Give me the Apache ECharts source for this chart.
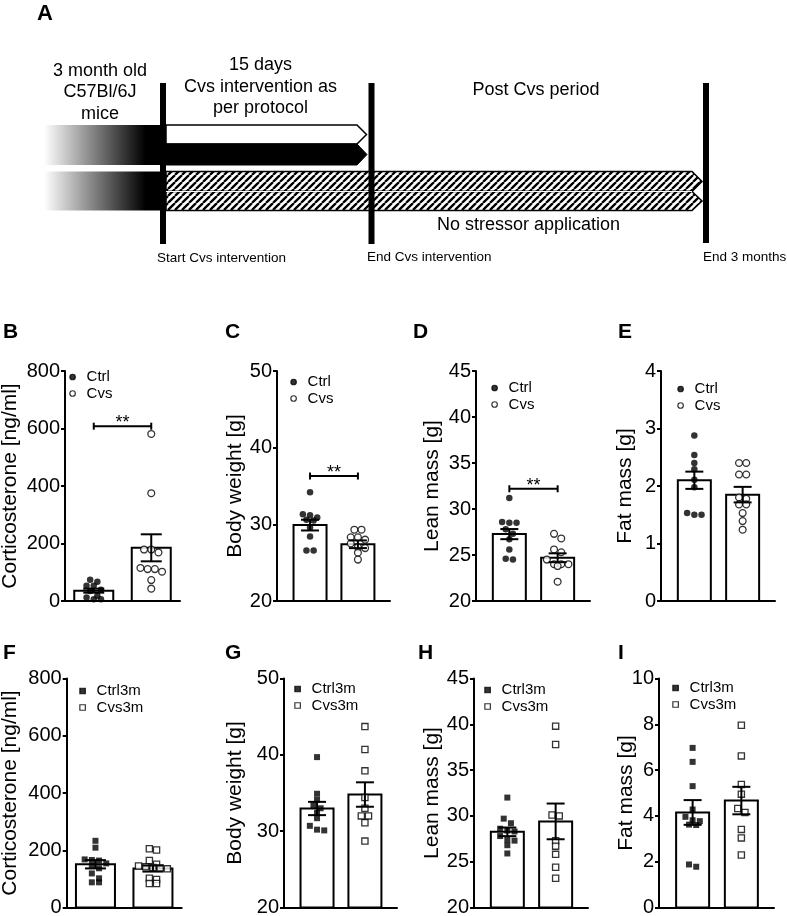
<!DOCTYPE html>
<html><head><meta charset="utf-8">
<script src="https://cdn.jsdelivr.net/npm/echarts@6/dist/echarts.min.js"></script>
<style>html,body{margin:0;padding:0;background:#fff}#c{width:787px;height:916px}</style>
</head><body><div id="c"></div>
<script>
// ---------------- DATA ----------------
const groupsTop = ['Ctrl', 'Cvs'];
const groupsBottom = ['Ctrl3m', 'Cvs3m'];

// B: Corticosterone
const corticoCtrl = [74, 67, 53, 53, 39, 35, 18, 12, 6, 6];
const corticoCvs = [581, 375, 179, 179, 169, 115, 111, 111, 102, 73, 43];
const corticoMean = [36, 185];
const corticoSem = [7, 47];
const corticoSig = 608;
// C: Body weight
const bwCtrl = [34.2, 31.2, 31.3, 30.9, 30.6, 30.5, 29.6, 28.4, 26.6, 26.6];
const bwCvs = [29.3, 29.3, 28.3, 28.3, 28.0, 27.5, 27.0, 26.9, 26.3, 25.4];
const bwMean = [29.9, 27.4];
const bwSem = [0.7, 0.5];
const bwSig = 36.3;
// D: Lean mass
const leanCtrl = [31.2, 28.6, 28.5, 28.5, 27.8, 27.3, 26.7, 25.6, 24.6, 24.5];
const leanCvs = [27.3, 26.8, 25.6, 25.3, 24.5, 24.0, 24.0, 24.0, 23.8, 22.1];
const leanMean = [27.27, 24.7];
const leanSem = [0.55, 0.48];
const leanSig = 32.2;
// E: Fat mass
const fatCtrl = [2.88, 2.54, 2.40, 2.29, 2.11, 1.98, 1.53, 1.50, 1.50];
const fatCvs = [2.40, 2.40, 2.20, 2.20, 1.80, 1.78, 1.68, 1.68, 1.53, 1.39, 1.24];
const fatMean = [2.10, 1.85];
const fatSem = [0.15, 0.135];
// F: Corticosterone 3m
const cortico3mCtrl = [233, 209, 168, 166, 164, 154, 145, 137, 119, 102, 88, 88];
const cortico3mCvs = [205, 201, 164, 151, 145, 142, 140, 138, 135, 102, 98, 84, 84];
const cortico3mMean = [151, 136];
const cortico3mSem = [14.5, 10.5];
// G: Body weight 3m
const bw3mCtrl = [39.7, 34.9, 34.1, 33.4, 33.0, 32.4, 31.7, 30.7, 30.2, 30.1];
const bw3mCvs = [43.7, 40.7, 37.9, 34.4, 33.0, 32.0, 32.0, 31.1, 28.7];
const bw3mMean = [32.97, 34.8];
const bw3mSem = [0.87, 1.6];
// H: Lean mass 3m
const lean3mCtrl = [32.0, 29.7, 29.2, 28.6, 28.4, 28.3, 27.8, 27.4, 27.3, 26.8, 25.9];
const lean3mCvs = [39.8, 37.8, 30.1, 30.0, 27.3, 26.7, 25.8, 24.4, 23.2];
const lean3mMean = [28.26, 29.4];
const lean3mSem = [0.47, 1.95];
// I: Fat mass 3m
const fat3mCtrl = [6.97, 6.36, 5.30, 4.28, 3.96, 3.81, 3.77, 3.62, 3.60, 1.88, 1.78];
const fat3mCvs = [7.96, 6.62, 5.37, 4.95, 4.32, 4.15, 3.41, 3.04, 2.29];
const fat3mMean = [4.15, 4.67];
const fat3mSem = [0.54, 0.6];

// Axis scales (min, max, interval)
const yCortico = [0, 800, 200];
const yBw = [20, 50, 10];
const yLean = [20, 45, 5];
const yFat = [0, 4, 1];
const yFat3m = [0, 10, 2];

// ---------------- LAYOUT ----------------
const FF = '"Liberation Sans", Arial, Helvetica, sans-serif';
const panels = [
  {L:'B', left:65, top:371, width:115, height:230, y:yCortico, name:'Corticosterone [ng/ml]', gap:44, xr:[0.5,2.5], bw:39, cap:21, groups:groupsTop, pts:[corticoCtrl,corticoCvs], mean:corticoMean, sem:corticoSem, sig:corticoSig, sym:'circle', lg:[72,377], lt:[3,332]},
  {L:'C', left:277, top:371, width:113, height:230, y:yBw, name:'Body weight [g]', gap:31, xr:[0.31,2.67], bw:33, cap:18, groups:groupsTop, pts:[bwCtrl,bwCvs], mean:bwMean, sem:bwSem, sig:bwSig, sym:'circle', lg:[293,382], lt:[225,332]},
  {L:'D', left:476, top:371, width:114, height:230, y:yLean, name:'Lean mass [g]', gap:33, xr:[0.31,2.67], bw:33, cap:18, groups:groupsTop, pts:[leanCtrl,leanCvs], mean:leanMean, sem:leanSem, sig:leanSig, sym:'circle', lg:[494,388], lt:[413,332]},
  {L:'E', left:661, top:371, width:114, height:230, y:yFat, name:'Fat mass [g]', gap:25.5, xr:[0.31,2.67], bw:33, cap:18, groups:groupsTop, pts:[fatCtrl,fatCvs], mean:fatMean, sem:fatSem, sig:null, sym:'circle', lg:[680,389], lt:[618,332]},
  {L:'F', left:66.7, top:678.5, width:115, height:229, y:yCortico, name:'Corticosterone [ng/ml]', gap:45.5, xr:[0.5,2.5], bw:39, cap:21, groups:groupsBottom, pts:[cortico3mCtrl,cortico3mCvs], mean:cortico3mMean, sem:cortico3mSem, sig:null, sym:'rect', lg:[82,691], lt:[3,653]},
  {L:'G', left:284, top:678.5, width:113, height:229, y:yBw, name:'Body weight [g]', gap:38.5, xr:[0.31,2.67], bw:33, cap:18, groups:groupsBottom, pts:[bw3mCtrl,bw3mCvs], mean:bw3mMean, sem:bw3mSem, sig:null, sym:'rect', lg:[297,689], lt:[225,653]},
  {L:'H', left:474, top:678.5, width:114, height:229, y:yLean, name:'Lean mass [g]', gap:31, xr:[0.31,2.67], bw:33, cap:18, groups:groupsBottom, pts:[lean3mCtrl,lean3mCvs], mean:lean3mMean, sem:lean3mSem, sig:null, sym:'rect', lg:[487,690], lt:[418,653]},
  {L:'I', left:659, top:678.5, width:115, height:229, y:yFat3m, name:'Fat mass [g]', gap:22.5, xr:[0.31,2.67], bw:33, cap:18, groups:groupsBottom, pts:[fat3mCtrl,fat3mCvs], mean:fat3mMean, sem:fat3mSem, sig:null, sym:'rect', lg:[675,688], lt:[618,653]}
];

// deterministic row-based swarm offsets
function swarm(vals, center, pxPerY, pxPerX) {
  const sorted = vals.slice().sort((a, b) => b - a);
  const rows = [];
  sorted.forEach(v => {
    const last = rows[rows.length - 1];
    if (last && (last.v0 - v) * pxPerY < 5) last.items.push(v);
    else rows.push({v0: v, items: [v]});
  });
  const out = [];
  const step = 7.2;
  rows.forEach(r => {
    const n = r.items.length;
    r.items.forEach((v, i) => out.push([center + (i - (n - 1) / 2) * step / pxPerX, v]));
  });
  return out;
}

const grids = [], xAxes = [], yAxes = [], series = [], legends = [], graphics = [];

panels.forEach((p, i) => {
  grids.push({left: p.left, top: p.top, width: p.width, height: p.height, containLabel: false, outerBoundsMode: 'none'});
  xAxes.push({gridIndex: i, type: 'value', min: p.xr[0], max: p.xr[1],
    axisLine: {show: true, onZero: false, lineStyle: {color: '#000', width: 2}},
    axisTick: {show: false}, axisLabel: {show: false}, splitLine: {show: false}});
  yAxes.push({gridIndex: i, type: 'value', min: p.y[0], max: p.y[1], interval: p.y[2],
    name: p.name, nameLocation: 'middle', nameGap: p.gap, nameMoveOverlap: false,
    nameTextStyle: {fontSize: 21, color: '#000', fontFamily: FF},
    axisLine: {show: true, onZero: false, lineStyle: {color: '#000', width: 2}},
    axisTick: {show: true, length: 4, lineStyle: {color: '#000', width: 2}},
    axisLabel: {fontSize: 20, color: '#000', margin: 5, fontFamily: FF},
    splitLine: {show: false}});

  const pxPerY = p.height / (p.y[1] - p.y[0]);
  const pxPerX = p.width / (p.xr[1] - p.xr[0]);
  const yMin = p.y[0];
  const bw = p.bw, cap = p.cap;

  // bars
  series.push({type: 'custom', xAxisIndex: i, yAxisIndex: i, z: 2, silent: true,
    data: p.mean.map((m, k) => [k + 1, m, p.sem[k]]),
    renderItem: (params, api) => {
      const x = api.value(0), m = api.value(1);
      const top = api.coord([x, m]), base = api.coord([x, yMin]);
      return {type: 'rect', shape: {x: top[0] - bw / 2, y: top[1], width: bw, height: base[1] - top[1]},
        style: {fill: '#fff', stroke: '#000', lineWidth: 2}};
    }});
  // points
  const hollow = p.sym === 'circle' ? 6.8 : 6.2;
  series.push({type: 'scatter', name: p.groups[0], xAxisIndex: i, yAxisIndex: i, z: 3, silent: true,
    symbol: p.sym, symbolSize: p.sym === 'circle' ? 6.5 : 6,
    itemStyle: {color: '#000', borderColor: '#000', borderWidth: 0},
    data: swarm(p.pts[0], 1, pxPerY, pxPerX)});
  series.push({type: 'scatter', name: p.groups[1], xAxisIndex: i, yAxisIndex: i, z: 3, silent: true,
    symbol: p.sym, symbolSize: hollow,
    itemStyle: {color: '#fff', borderColor: '#000', borderWidth: 1.3},
    data: swarm(p.pts[1], 2, pxPerY, pxPerX)});
  // error bars
  series.push({type: 'custom', xAxisIndex: i, yAxisIndex: i, z: 4, silent: true,
    data: p.mean.map((m, k) => [k + 1, m, p.sem[k]]),
    renderItem: (params, api) => {
      const x = api.value(0), m = api.value(1), s = api.value(2);
      const hi = api.coord([x, m + s]), lo = api.coord([x, m - s]);
      const st = {stroke: '#000', lineWidth: 2};
      return {type: 'group', children: [
        {type: 'line', shape: {x1: hi[0], y1: hi[1], x2: lo[0], y2: lo[1]}, style: st},
        {type: 'line', shape: {x1: hi[0] - cap / 2, y1: hi[1], x2: hi[0] + cap / 2, y2: hi[1]}, style: st},
        {type: 'line', shape: {x1: lo[0] - cap / 2, y1: lo[1], x2: lo[0] + cap / 2, y2: lo[1]}, style: st}
      ]};
    }});
  // significance bracket
  if (p.sig !== null) {
    series.push({type: 'custom', xAxisIndex: i, yAxisIndex: i, z: 5, silent: true,
      data: [[1, 2, p.sig]],
      renderItem: (params, api) => {
        const a = api.coord([api.value(0), api.value(2)]);
        const b = api.coord([api.value(1), api.value(2)]);
        const st = {stroke: '#000', lineWidth: 2};
        return {type: 'group', children: [
          {type: 'line', shape: {x1: a[0], y1: a[1], x2: b[0], y2: b[1]}, style: st},
          {type: 'line', shape: {x1: a[0], y1: a[1] - 3.5, x2: a[0], y2: a[1] + 3.5}, style: st},
          {type: 'line', shape: {x1: b[0], y1: b[1] - 3.5, x2: b[0], y2: b[1] + 3.5}, style: st},
          {type: 'text', x: (a[0] + b[0]) / 2, y: a[1] - 3, style: {text: '**', fontSize: 18, fontFamily: FF, fill: '#000', align: 'center', verticalAlign: 'middle'}}
        ]};
      }});
  }
  // legend: square icon box centred on the marker position, text padded to the right
  const isz = 5.5;
  legends.push({orient: 'vertical', left: p.lg[0] - isz / 2, top: p.lg[1] - 7.5, padding: 0, itemGap: 1.5,
    itemWidth: isz, itemHeight: isz, selectedMode: false,
    itemStyle: {borderWidth: 1.2},
    textStyle: {fontSize: 15, color: '#000', fontFamily: FF, padding: [0, 0, 0, 9 - isz / 2]},
    data: p.groups.map(g => ({name: g}))});
  graphics.push({type: 'text', x: p.lt[0], y: p.lt[1], style: {text: p.L, fontSize: 21, fontWeight: 'bold', fontFamily: FF, fill: '#000', align: 'left', verticalAlign: 'middle'}});
});

// ---------------- SCHEMATIC (panel A) ----------------
function hatch() {
  const c = document.createElement('canvas'); const s = 7;
  c.width = s; c.height = s;
  const g = c.getContext('2d');
  g.fillStyle = '#fff'; g.fillRect(0, 0, s, s);
  g.strokeStyle = '#000'; g.lineWidth = 2.3;
  g.beginPath();
  for (let k = -1; k <= 1; k++) { g.moveTo(k * s, s); g.lineTo(k * s + s, 0); }
  g.stroke();
  return c;
}
const hatchFill = {type: 'pattern', image: hatch(), repeat: 'repeat'};
const grad = {type: 'linear', x: 0, y: 0, x2: 1, y2: 0, global: false,
  colorStops: [{offset: 0, color: '#ffffff'}, {offset: 0.86, color: '#000000'}, {offset: 1, color: '#000000'}]};
const txt = (t, x, y, size, align, weight) => ({type: 'text', x: x, y: y,
  style: {text: t, fontSize: size, fontFamily: FF, fontWeight: weight || 'normal', fill: '#000', align: align || 'center', verticalAlign: 'middle'}});

graphics.push(
  {type: 'rect', shape: {x: 44, y: 125, width: 118, height: 40}, style: {fill: grad}},
  {type: 'rect', shape: {x: 44, y: 171.5, width: 118, height: 39}, style: {fill: grad}},
  {type: 'polygon', shape: {points: [[166, 125], [357, 125], [366.5, 134.5], [357, 144], [166, 144]]}, style: {fill: '#fff', stroke: '#000', lineWidth: 1.5}},
  {type: 'polygon', shape: {points: [[166, 144], [357, 144], [367, 154.5], [357, 165], [166, 165]]}, style: {fill: '#000', stroke: '#000', lineWidth: 1}},
  {type: 'polygon', shape: {points: [[166, 171.5], [692, 171.5], [702, 181.5], [692, 191.5], [166, 191.5]]}, style: {fill: hatchFill, stroke: '#000', lineWidth: 1.5}},
  {type: 'polygon', shape: {points: [[166, 191.5], [692, 191.5], [702, 201], [692, 210.5], [166, 210.5]]}, style: {fill: hatchFill, stroke: '#000', lineWidth: 1.5}},
  {type: 'line', shape: {x1: 166, y1: 191.5, x2: 692, y2: 191.5}, style: {stroke: '#fff', lineWidth: 1}},
  {type: 'rect', shape: {x: 160, y: 83, width: 6, height: 161}, style: {fill: '#000'}},
  {type: 'rect', shape: {x: 368.5, y: 83, width: 6, height: 161}, style: {fill: '#000'}},
  {type: 'rect', shape: {x: 703, y: 83, width: 6, height: 160}, style: {fill: '#000'}},
  txt('A', 37, 13.5, 22, 'left', 'bold'),
  txt('3 month old', 100, 70.7, 18), txt('C57Bl/6J', 100, 92.3, 18), txt('mice', 100, 114, 18),
  txt('15 days', 260.5, 65, 18), txt('Cvs intervention as', 260.5, 86.7, 18), txt('per protocol', 260.5, 108.3, 18),
  txt('Post Cvs period', 536, 90, 18),
  txt('No stressor application', 528.5, 225, 18),
  txt('Start Cvs intervention', 157, 258, 13.5, 'left'),
  txt('End Cvs intervention', 367, 257, 13.5, 'left'),
  txt('End 3 months', 703, 257, 13.5, 'left')
);

const chart = echarts.init(document.getElementById('c'), null, {renderer: 'canvas'});
chart.setOption({
  backgroundColor: '#fff',
  animation: false,
  textStyle: {fontFamily: FF},
  grid: grids, xAxis: xAxes, yAxis: yAxes, series: series, legend: legends,
  graphic: graphics
});
</script></body></html>
